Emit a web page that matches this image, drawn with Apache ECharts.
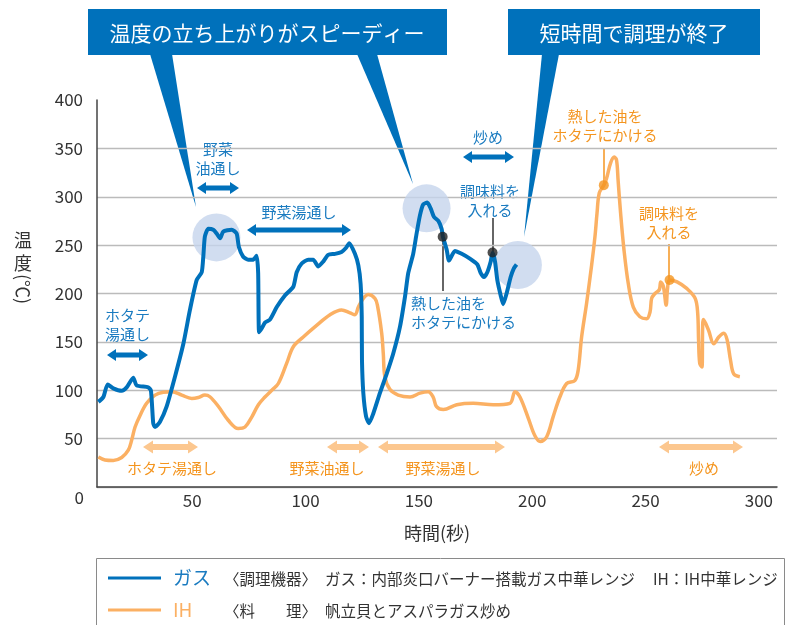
<!DOCTYPE html>
<html>
<head>
<meta charset="utf-8">
<script src="https://cdn.jsdelivr.net/npm/echarts@6/dist/echarts.min.js"></script>
<style>
  html, body { margin: 0; padding: 0; background: #fff; }
  #chart { width: 790px; height: 625px; }
</style>
</head>
<body>
<div id="chart"></div>
<script>
// x: 時間(秒), y: 温度(℃)
const xTicks = [50, 100, 150, 200, 250, 300];
const yTicks = [0, 50, 100, 150, 200, 250, 300, 350, 400];

// ガス
const gasTime = [8.6, 10.8, 12.7, 15.2, 18.9, 21.1, 24.0, 25.5, 30.6, 31.8, 32.8, 33.6, 35.8, 38.7, 42.4, 46.1, 49.0, 52.0,
  54.2, 54.9, 55.6, 57.1, 59.3, 60.8, 62.3, 63.7, 67.4, 69.6, 70.6, 72.5, 74.7, 76.9, 78.4, 79.1, 79.5, 80.7, 82.1, 84.3,
  87.3, 90.9, 94.6, 96.1, 98.3, 101.2, 103.4, 105.6, 107.8, 110.0, 113.0, 115.9, 117.8, 119.3, 121.8, 123.3, 124.3, 124.8,
  124.9, 125.5, 126.7, 128.0, 129.9, 132.8, 135.8, 138.7, 141.7, 143.9, 145.3, 147.5, 149.0, 150.5, 151.9, 153.7, 155.2,
  156.7, 158.6, 160.0, 160.6, 162.3, 163.3, 165.9, 168.9, 172.5, 175.8, 177.3, 178.7, 180.2, 181.7, 182.5, 183.6, 184.6,
  186.1, 187.2, 188.7, 190.5, 191.9, 193.1];
const gasTemp = [88, 93, 106, 102, 99.5, 103, 113, 105, 103, 99.5, 66, 62, 67.5, 83, 114, 148, 183, 214,
  222, 238, 259, 267, 266, 262, 257, 264, 266, 262, 248, 238, 235, 235, 239, 221, 160, 164, 170, 173,
  186, 198, 207, 222, 231, 235, 235, 228, 233, 240, 241, 243, 247, 252, 241, 229, 210, 176,
  131, 97, 73, 66, 76, 97, 117, 138, 166, 197, 221, 241, 262, 281, 292, 294, 288,
  279, 275, 267, 259, 245, 234, 244, 241, 236, 230, 221, 217, 222, 233, 242, 233, 214,
  198, 189, 200, 217, 226, 230];

// IH
const ihTime = [8.6, 11.5, 15.2, 18.9, 21.8, 23.3, 24.8, 27.0, 29.9, 33.6, 37.2, 41.1, 45.4, 49.8, 52.7, 55.6, 57.8, 61.5,
  65.9, 70.3, 73.3, 76.2, 79.2, 82.1, 85.1, 88.0, 91.7, 94.6, 99.0, 104.9, 110.8, 115.9, 119.6, 121.8, 123.3, 125.5, 127.7,
  130.6, 131.7, 133.6, 134.3, 135.0, 137.2, 140.9, 146.1, 150.5, 154.1, 156.3, 157.8, 160.8, 166.7, 174.0, 182.8, 190.2,
  192.4, 194.6, 198.3, 201.2, 203.6, 206.4, 209.3, 212.2, 215.2, 218.8, 220.3, 221.8, 224.0, 226.2, 227.7, 228.6, 229.6,
  231.6, 232.8, 234.6, 236.2, 237.2, 237.9, 239.0, 240.5, 242.4, 244.6, 247.5, 250.5, 252.0, 252.7, 254.2, 256.1, 256.7,
  257.9, 259.1, 259.7, 260.6, 263.9, 268.3, 271.9, 273.0, 273.4, 273.9, 274.9, 275.2, 275.5, 277.8, 280.1, 282.3, 284.5,
  286.0, 287.5, 288.9, 291.6];
const ihTemp = [31, 28, 27.5, 30.5, 38, 48.5, 62, 74, 86.5, 95, 98, 98.5, 95, 91.5, 92.5, 95, 93.3, 83.5,
  69, 60.5, 62, 72, 85, 93, 100, 107, 128, 145, 155, 167, 178, 183, 180, 178, 186, 195, 199,
  195, 188, 159, 138, 114, 101, 95, 93, 97, 98.5, 93, 83, 80, 85, 86.5, 85, 86.5,
  98.5, 93, 71, 53, 47, 52, 73, 93, 107, 110, 121, 155, 190, 229, 259, 283, 304,
  312, 319, 335, 341, 338, 317, 283, 245, 210, 186, 176, 174, 181, 195, 200, 204, 212,
  207, 188, 205, 214, 212, 205, 195, 180, 152, 128, 124, 166, 173, 162, 148, 155, 159,
  152, 131, 117, 114];

// 注目箇所(円) と 操作点(黒・橙の点)
const highlightPts = [[60.7, 258], [153.4, 288], [193.7, 229.5]];
const gasEventPts = [[160.5, 258.7], [182.5, 242.4]];
const ihEventPts = [[231.6, 312], [260.6, 214]];

const zip = (xs, ys) => xs.map((x, i) => [x, ys[i]]);

const BLUE = '#0071bb';
const BLUE_TXT = '#1a7bc0';
const ORANGE = '#fbb063';
const ORANGE_TXT = '#f4951f';
const ORANGE_ARROW = '#fcc78f';
const FONT = '"Noto Sans CJK JP", sans-serif';

function arrow(x1, x2, y, color, shaft, headW, headL) {
  const h = shaft / 2, w = headW / 2;
  return {
    type: 'polygon', silent: true,
    shape: { points: [[x1, y], [x1 + headL, y - w], [x1 + headL, y - h], [x2 - headL, y - h], [x2 - headL, y - w],
      [x2, y], [x2 - headL, y + w], [x2 - headL, y + h], [x1 + headL, y + h], [x1 + headL, y + w]] },
    style: { fill: color }
  };
}

function txt(text, x, y, color, size, align, extra) {
  return Object.assign({
    type: 'text', x: x, y: y, silent: true,
    style: { text: text, fill: color, font: size + 'px ' + FONT, align: align || 'center',
      verticalAlign: 'middle', lineHeight: Math.round(size * 1.28) }
  }, extra || {});
}

function seg(x1, y1, x2, y2, color, w) {
  return { type: 'line', silent: true, shape: { x1: x1, y1: y1, x2: x2, y2: y2 }, style: { stroke: color, lineWidth: w } };
}

const graphics = [
  // 吹き出し
  { type: 'polygon', shape: { points: [[150, 54], [172, 54], [196, 207]] }, style: { fill: BLUE } },
  { type: 'polygon', shape: { points: [[357, 54], [377, 54], [413, 184]] }, style: { fill: BLUE } },
  { type: 'polygon', shape: { points: [[542, 54], [559, 54], [524, 237]] }, style: { fill: BLUE } },
  { type: 'rect', shape: { x: 88, y: 9, width: 359, height: 46 }, style: { fill: BLUE } },
  { type: 'rect', shape: { x: 508, y: 9, width: 252, height: 46 }, style: { fill: BLUE } },
  txt('温度の立ち上がりがスピーディー', 267, 33, '#fff', 21),
  txt('短時間で調理が終了', 634, 33, '#fff', 21),

  // ガスの工程
  txt('ホタテ\n湯通し', 105, 325, BLUE_TXT, 15, 'left'),
  arrow(107, 148, 355, BLUE, 5, 12, 9),
  txt('野菜\n油通し', 218, 159, BLUE_TXT, 15),
  arrow(197, 239, 188, BLUE, 5, 12, 9),
  txt('野菜湯通し', 299, 212, BLUE_TXT, 15),
  arrow(247, 351, 230, BLUE, 5, 12, 9),
  txt('炒め', 488, 137, BLUE_TXT, 15),
  arrow(463, 514, 157, BLUE, 5, 12, 9),
  seg(443, 237, 443, 291, '#333', 1.5),
  txt('熱した油を\nホタテにかける', 411, 313, BLUE_TXT, 15, 'left'),
  seg(493, 252, 493, 218, '#333', 1.5),
  txt('調味料を\n入れる', 490, 201, BLUE_TXT, 15),

  // IHの工程
  arrow(143, 198, 447, ORANGE_ARROW, 6, 13, 10),
  txt('ホタテ湯通し', 172, 468, ORANGE_TXT, 15),
  arrow(327, 369, 447, ORANGE_ARROW, 6, 13, 10),
  txt('野菜油通し', 327, 468, ORANGE_TXT, 15),
  arrow(378, 505, 447, ORANGE_ARROW, 6, 13, 10),
  txt('野菜湯通し', 443, 468, ORANGE_TXT, 15),
  arrow(659, 743, 447, ORANGE_ARROW, 6, 13, 10),
  txt('炒め', 704, 468, ORANGE_TXT, 15),
  seg(604, 185, 604, 148, ORANGE_TXT, 1.5),
  txt('熱した油を\nホタテにかける', 605, 126, ORANGE_TXT, 15),
  seg(669, 280, 669, 244, ORANGE_TXT, 1.5),
  txt('調味料を\n入れる', 669, 223, ORANGE_TXT, 15),

  // 軸名
  txt('0', 84, 498, '#333', 17, 'right'),
  txt('温\n度', 23, 252, '#333', 18),
  txt('(℃)', 23, 289, '#333', 18, 'center', { rotation: -Math.PI / 2 }),
  txt('時間(秒)', 437, 533, '#333', 18),

  // 凡例
  { type: 'rect', shape: { x: 96.5, y: 558.5, width: 688, height: 80 }, style: { fill: 'none', stroke: '#8a8a8a', lineWidth: 1 } },
  seg(108, 578, 161, 578, BLUE, 3),
  txt('ガス', 173, 578, BLUE_TXT, 19, 'left'),
  txt('〈調理機器〉', 224, 579, '#333', 15.5, 'left'),
  txt('ガス：内部炎口バーナー搭載ガス中華レンジ', 325, 579, '#333', 15.5, 'left'),
  txt('IH：IH中華レンジ', 653, 579, '#333', 15.5, 'left'),
  seg(108, 610, 161, 610, ORANGE, 3),
  txt('IH', 173, 610, ORANGE, 19, 'left'),
  txt('〈料　　理〉', 224, 611, '#333', 15.5, 'left'),
  txt('帆立貝とアスパラガス炒め', 325, 611, '#333', 15.5, 'left')
];

const chart = echarts.init(document.getElementById('chart'), null, { renderer: 'canvas' });
chart.setOption({
  animation: false,
  backgroundColor: '#fff',
  textStyle: { fontFamily: FONT },
  grid: { left: 97, top: 100, width: 680, height: 387 },
  xAxis: {
    type: 'value', min: 8, max: 308,
    axisLine: { lineStyle: { color: '#444', width: 1.5 } },
    axisTick: { show: false },
    axisLabel: { customValues: xTicks, color: '#333', fontSize: 17, margin: 5, fontFamily: FONT },
    splitLine: { show: false }
  },
  yAxis: {
    type: 'value', min: yTicks[0], max: yTicks[yTicks.length - 1], interval: 50,
    axisLine: { show: true, lineStyle: { color: '#444', width: 1.5 } },
    axisTick: { show: false },
    axisLabel: { color: '#333', fontSize: 17, margin: 14, fontFamily: FONT, formatter: v => (v === 0 ? '' : v) },
    splitLine: { lineStyle: { color: ['#bbb', '#bbb', '#bbb', '#bbb', '#bbb', '#bbb', '#bbb', '#bbb', 'rgba(0,0,0,0)'], width: 1.3 } }
  },
  series: [
    { type: 'scatter', data: highlightPts, symbolSize: 48, itemStyle: { color: '#c6d4ec' }, z: 1, silent: true },
    { name: 'IH', type: 'line', data: zip(ihTime, ihTemp), smooth: 0.35, symbol: 'none',
      lineStyle: { color: ORANGE, width: 3.5 }, z: 2 },
    { name: 'ガス', type: 'line', data: zip(gasTime, gasTemp), smooth: 0.2, symbol: 'none',
      lineStyle: { color: BLUE, width: 4 }, z: 3 },
    { type: 'scatter', data: gasEventPts, symbolSize: 10, itemStyle: { color: '#222' }, z: 5, silent: true },
    { type: 'scatter', data: ihEventPts, symbolSize: 10, itemStyle: { color: ORANGE_TXT }, z: 5, silent: true }
  ],
  graphic: graphics
});
</script>
</body>
</html>
